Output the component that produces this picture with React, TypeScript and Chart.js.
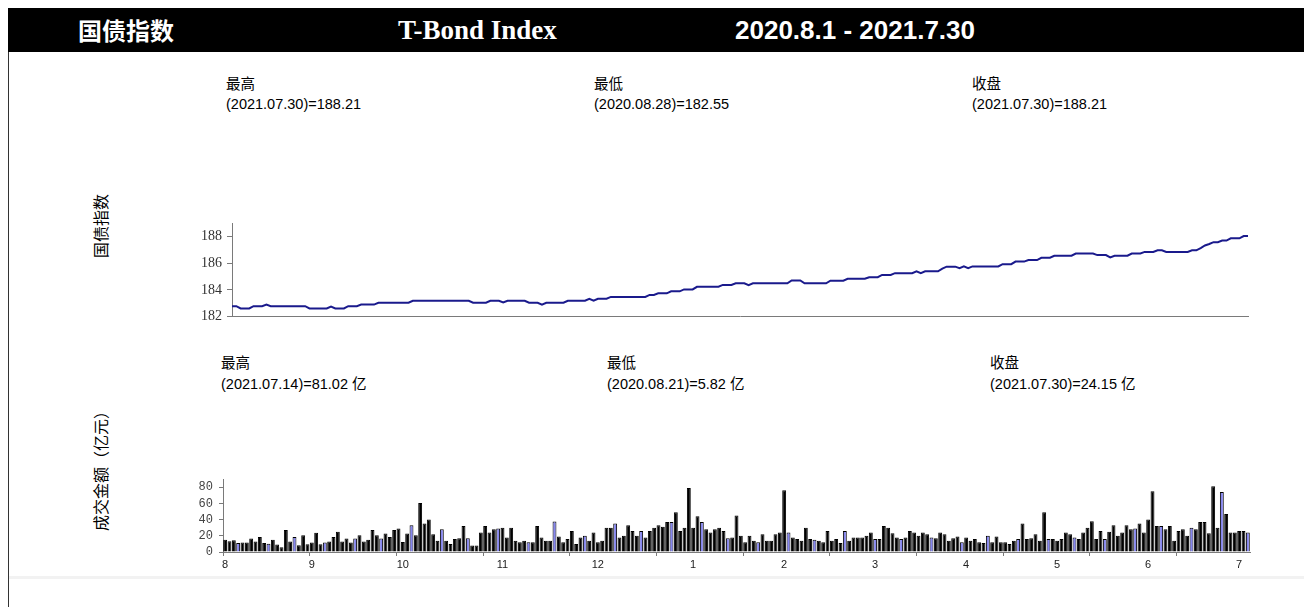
import React, { useEffect, useRef } from "react";
import { Chart, registerables } from "chart.js";

Chart.register(...registerables);

// 国债指数 daily close (237 trading days)
const indexValues: number[] = [
  182.78, 182.78, 182.61, 182.61, 182.61, 182.78, 182.78, 182.78, 182.9, 182.78,
  182.78, 182.78, 182.78, 182.78, 182.78, 182.78, 182.78, 182.78, 182.61, 182.61,
  182.61, 182.61, 182.61, 182.75, 182.61, 182.61, 182.61, 182.78, 182.78, 182.78,
  182.9, 182.9, 182.9, 182.9, 183.04, 183.04, 183.04, 183.04, 183.04, 183.04,
  183.04, 183.04, 183.19, 183.19, 183.19, 183.19, 183.19, 183.19, 183.19, 183.19,
  183.19, 183.19, 183.19, 183.19, 183.19, 183.19, 183.04, 183.04, 183.04, 183.04,
  183.19, 183.19, 183.19, 183.06, 183.19, 183.19, 183.19, 183.19, 183.19, 183.04,
  183.04, 183.04, 182.9, 183.04, 183.04, 183.04, 183.04, 183.04, 183.19, 183.19,
  183.19, 183.19, 183.19, 183.34, 183.19, 183.34, 183.34, 183.34, 183.48, 183.48,
  183.48, 183.48, 183.48, 183.48, 183.48, 183.48, 183.48, 183.63, 183.63, 183.75,
  183.75, 183.75, 183.9, 183.9, 183.9, 184.04, 184.04, 184.04, 184.24, 184.24,
  184.24, 184.24, 184.24, 184.24, 184.38, 184.38, 184.38, 184.5, 184.5, 184.5,
  184.36, 184.5, 184.5, 184.5, 184.5, 184.5, 184.5, 184.5, 184.5, 184.5,
  184.72, 184.72, 184.72, 184.5, 184.5, 184.5, 184.5, 184.5, 184.5, 184.7,
  184.7, 184.7, 184.7, 184.84, 184.84, 184.84, 184.84, 184.84, 184.96, 184.96,
  184.96, 185.13, 185.13, 185.13, 185.26, 185.26, 185.26, 185.26, 185.26, 185.4,
  185.26, 185.4, 185.4, 185.4, 185.4, 185.6, 185.75, 185.75, 185.75, 185.64,
  185.77, 185.64, 185.77, 185.77, 185.77, 185.77, 185.77, 185.77, 185.77, 185.94,
  185.94, 185.94, 186.13, 186.13, 186.13, 186.25, 186.25, 186.25, 186.42, 186.42,
  186.42, 186.57, 186.57, 186.57, 186.57, 186.57, 186.74, 186.74, 186.74, 186.74,
  186.74, 186.62, 186.62, 186.62, 186.45, 186.57, 186.57, 186.57, 186.57, 186.74,
  186.74, 186.74, 186.86, 186.86, 186.86, 186.98, 186.98, 186.86, 186.86, 186.86,
  186.86, 186.86, 186.86, 186.98, 186.98, 187.15, 187.34, 187.45, 187.59, 187.59,
  187.71, 187.71, 187.88, 187.88, 187.88, 188.05, 188.05,
];

// 成交金额（亿元） daily turnover
const turnoverValues: number[] = [
  15.2, 13.1, 14.5, 11.0, 11.6, 11.6, 16.6, 13.0, 18.6, 11.0,
  10.1, 15.0, 9.2, 5.82, 27.0, 13.0, 18.6, 8.2, 20.7, 9.5,
  11.6, 23.6, 9.5, 11.6, 13.0, 18.6, 24.9, 13.0, 16.6, 11.6,
  16.6, 20.7, 13.0, 15.0, 27.0, 20.7, 16.6, 22.8, 18.6, 27.0,
  29.0, 12.4, 22.8, 33.0, 20.7, 60.5, 35, 40, 22, 14,
  28, 14, 10, 16, 17, 32, 17, 8, 8, 24,
  32, 24, 28, 29, 30, 18, 30, 14, 12, 14,
  12, 12, 32, 18, 14, 14, 37.5, 19, 12, 16,
  26, 10, 18, 20, 14, 24, 12, 14, 30, 30,
  35, 18, 20, 33, 26, 20, 26, 18, 26, 30,
  33, 31, 37, 37, 49, 26, 30, 79, 30, 44,
  37, 28, 24, 28, 30, 26, 17, 18, 45, 20,
  12, 20, 14, 12, 22, 14, 14, 22, 24, 76,
  24, 18, 16, 14, 30, 16, 15, 14, 12, 26,
  14, 16, 11, 26, 14, 18, 18, 18, 20, 24,
  16, 16, 32, 30, 23, 18, 16, 18, 26, 24,
  20, 24, 22, 18, 17, 24, 22, 14, 17, 19,
  12, 18, 14, 16, 12, 11, 20, 12, 19, 12,
  12, 10, 14, 16, 35, 16, 17, 22, 14, 49,
  16, 16, 14, 16, 24, 22, 18, 16, 24, 30,
  38, 16, 26, 16, 25, 33, 20, 24, 33, 28,
  29, 35, 24, 40, 75, 32, 32, 28, 32, 14,
  26, 28, 20, 30, 28, 37, 37, 23, 81.02, 30,
  74, 47, 24, 24, 26, 26, 24.15,
];

const monthTickLabels = ["8", "9", "10", "11", "12", "1", "2", "3", "4", "5", "6", "7"];
const monthTickIndex = [0, 20, 41, 64, 86, 108, 129, 150, 171, 192, 213, 234];

const indexYTicks = [182, 184, 186, 188];
const turnoverYTicks = [0, 20, 40, 60, 80];

const categoryLabels: string[] = turnoverValues.map((_, i) => {
  const k = monthTickIndex.indexOf(i);
  return k >= 0 ? monthTickLabels[k] : "";
});

const AXIS = "#7a7a7a";
const SANS = '"Liberation Sans", Arial, "Noto Sans CJK SC", sans-serif';
const CJK = '"Liberation Sans", "Noto Sans CJK SC", sans-serif';

const abs = (left: number, top: number, extra: React.CSSProperties = {}): React.CSSProperties => ({
  position: "absolute",
  left,
  top,
  whiteSpace: "nowrap",
  ...extra,
});

export default function App() {
  const lineRef = useRef<HTMLCanvasElement | null>(null);
  const barRef = useRef<HTMLCanvasElement | null>(null);

  useEffect(() => {
    if (!lineRef.current || !barRef.current) return;
    const lineChart = new Chart(lineRef.current, {
      type: "line",
      data: {
        labels: categoryLabels,
        datasets: [
          {
            data: indexValues,
            borderColor: "#1a1a8c",
            borderWidth: 2,
            pointRadius: 0,
            tension: 0,
            fill: false,
          },
        ],
      },
      options: {
        animation: false,
        responsive: false,
        events: [],
        layout: { padding: { left: 0, right: 12, top: 13, bottom: 10 } },
        plugins: { legend: { display: false }, tooltip: { enabled: false } },
        scales: {
          x: {
            type: "category",
            offset: false,
            grid: { display: false },
            border: { display: true, color: AXIS, width: 1 },
            ticks: { display: false },
            afterFit: (s: any) => {
              s.height = 0;
            },
          },
          y: {
            min: 182,
            max: 189,
            afterBuildTicks: (s: any) => {
              s.ticks = indexYTicks.map((v) => ({ value: v }));
            },
            ticks: {
              font: { family: '"Liberation Serif", serif', size: 14 },
              color: "#333",
              padding: 5,
            },
            grid: { drawOnChartArea: false, tickLength: 5, color: AXIS },
            border: { color: AXIS },
            afterFit: (s: any) => {
              s.width = 72;
            },
          },
        },
      } as any,
    });

    const barChart = new Chart(barRef.current, {
      type: "bar",
      data: {
        labels: categoryLabels,
        datasets: [
          {
            data: turnoverValues,
            backgroundColor: (ctx: any) =>
              ((ctx.dataIndex + 4) * 3) % 20 < 3 ? "#8585f0" : "#000000",
            borderColor: "#000000",
            borderWidth: 1,
            categoryPercentage: 0.9,
            barPercentage: 1,
          },
        ],
      },
      options: {
        animation: false,
        responsive: false,
        events: [],
        layout: { padding: { left: 0, right: 10, top: 14, bottom: 3 } },
        plugins: { legend: { display: false }, tooltip: { enabled: false } },
        scales: {
          x: {
            grid: {
              display: true,
              drawOnChartArea: false,
              offset: true,
              tickLength: 4,
              color: (ctx: any) => (ctx.index % 20 === 0 ? AXIS : "rgba(0,0,0,0)"),
            },
            border: { color: AXIS },
            ticks: {
              autoSkip: false,
              maxRotation: 0,
              minRotation: 0,
              padding: 2,
              font: { family: SANS, size: 11 },
              color: "#222",
              callback: (_v: any, i: number) => categoryLabels[i],
            },
            afterFit: (s: any) => {
              s.height = 20;
            },
          },
          y: {
            min: 0,
            max: 90,
            afterBuildTicks: (s: any) => {
              s.ticks = turnoverYTicks.map((v) => ({ value: v }));
            },
            ticks: {
              font: { family: '"Liberation Mono", monospace', size: 12 },
              color: "#444",
              padding: 6,
            },
            grid: { drawOnChartArea: false, tickLength: 4, color: AXIS },
            border: { color: AXIS },
            afterFit: (s: any) => {
              s.width = 73;
            },
          },
        },
      } as any,
    });

    return () => {
      lineChart.destroy();
      barChart.destroy();
    };
  }, []);

  const note: React.CSSProperties = { fontFamily: CJK, fontSize: 14.5, lineHeight: "16px", color: "#000" };

  return (
    <div style={{ position: "absolute", left: 0, top: 0, width: 1304, height: 607, overflow: "hidden", background: "#fff" }}>
      {/* header */}
      <div style={abs(8, 8, { width: 1296, height: 44, background: "#000" })} />
      <div style={abs(78, 8, { lineHeight: "44px", color: "#fff", fontFamily: '"Noto Sans CJK SC", sans-serif', fontWeight: 700, fontSize: 24 })}>国债指数</div>
      <div style={abs(398, 8, { lineHeight: "44px", color: "#fff", fontFamily: '"Liberation Serif", serif', fontWeight: 700, fontSize: 27 })}>T-Bond Index</div>
      <div style={abs(735, 8, { lineHeight: "44px", color: "#fff", fontFamily: SANS, fontWeight: 700, fontSize: 26 })}>2020.8.1 - 2021.7.30</div>
      {/* left border */}
      <div style={abs(8, 52, { width: 1, height: 555, background: "#333" })} />
      {/* faint separator */}
      <div style={abs(9, 576, { width: 1295, height: 3, background: "#f2f2f2" })} />

      {/* index notes */}
      <div style={abs(226, 76, note)}>最高</div>
      <div style={abs(226, 96, note)}>(2021.07.30)=188.21</div>
      <div style={abs(594, 76, note)}>最低</div>
      <div style={abs(594, 96, note)}>(2020.08.28)=182.55</div>
      <div style={abs(972, 76, note)}>收盘</div>
      <div style={abs(972, 96, note)}>(2021.07.30)=188.21</div>

      {/* turnover notes */}
      <div style={abs(221, 355, note)}>最高</div>
      <div style={abs(221, 376, note)}>(2021.07.14)=81.02 亿</div>
      <div style={abs(607, 355, note)}>最低</div>
      <div style={abs(607, 376, note)}>(2020.08.21)=5.82 亿</div>
      <div style={abs(990, 355, note)}>收盘</div>
      <div style={abs(990, 376, note)}>(2021.07.30)=24.15 亿</div>

      {/* vertical titles */}
      <div style={abs(100, 226, { transform: "translate(-50%,-50%) rotate(-90deg)", fontFamily: '"Noto Sans CJK SC", sans-serif', fontSize: 16, lineHeight: "18px", color: "#000" })}>国债指数</div>
      <div style={abs(100, 467, { transform: "translate(-50%,-50%) rotate(-90deg)", fontFamily: '"Noto Sans CJK SC", sans-serif', fontSize: 16, lineHeight: "18px", color: "#000" })}>成交金额（亿元）</div>

      {/* charts */}
      <canvas ref={lineRef} width={1100} height={120} style={abs(160, 210, { width: 1100, height: 120, display: "block" })} />
      <canvas ref={barRef} width={1110} height={110} style={abs(150, 465, { width: 1110, height: 110, display: "block" })} />
    </div>
  );
}
